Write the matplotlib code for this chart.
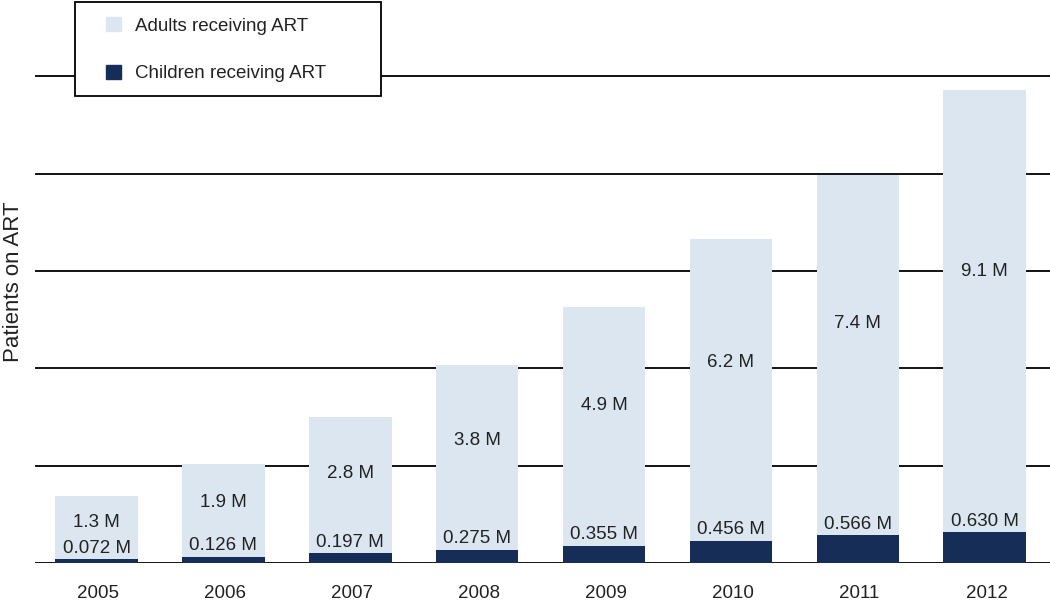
import matplotlib.pyplot as plt
import numpy as np
from matplotlib.patches import Patch, Rectangle

plt.rcParams['font.family'] = ['Liberation Sans', 'DejaVu Sans']

# Patients on ART, millions
years = ['2005', '2006', '2007', '2008', '2009', '2010', '2011', '2012']
children = [0.072, 0.126, 0.197, 0.275, 0.355, 0.456, 0.566, 0.630]
adults = [1.3, 1.9, 2.8, 3.8, 4.9, 6.2, 7.4, 9.1]
child_labels = ['0.072 M', '0.126 M', '0.197 M', '0.275 M', '0.355 M', '0.456 M', '0.566 M', '0.630 M']
adult_labels = ['1.3 M', '1.9 M', '2.8 M', '3.8 M', '4.9 M', '6.2 M', '7.4 M', '9.1 M']

LIGHT = '#dbe6f1'
DARK = '#162d57'

x = np.arange(len(years))
children = np.array(children)
adults = np.array(adults)

fig = plt.figure(figsize=(10.5, 6.01), dpi=100)
ax = fig.add_axes([35 / 1050, 38 / 601, 1015 / 1050, 563 / 601])

ax.bar(x - 0.015, children, width=0.65, color=DARK, zorder=3)
ax.bar(x - 0.015, adults, width=0.65, bottom=children, color=LIGHT, zorder=3)

for i in range(len(x)):
    ax.text(x[i] - 0.015, children[i] + 0.05, child_labels[i], ha='center', va='bottom',
            fontsize=13.5, color='#222222', zorder=4)
    ax.text(x[i] - 0.015, children[i] + adults[i] * 0.59, adult_labels[i], ha='center', va='center',
            fontsize=13.5, color='#222222', zorder=4)

ax.set_xlim(-0.5, 7.5)
ax.set_ylim(0, 11.57)
ax.set_yticks(np.arange(0, 11, 2))
ax.yaxis.grid(True, color='black', linewidth=1.3, zorder=0)
ax.set_yticklabels([])
ax.tick_params(axis='y', length=0)
ax.tick_params(axis='x', length=0, labelsize=13.5, pad=16, labelcolor='#222222')
ax.set_xticks(x)
ax.set_xticklabels(years)
for s in ax.spines.values():
    s.set_visible(False)

ax.set_ylabel('Patients on ART', fontsize=16, color='#222222')
ax.yaxis.set_label_coords(-0.011, 0.5)

# legend box drawn separately so the entries can sit off-centre like the original
box = Rectangle((75 / 1050, 1 - 96 / 601), 306 / 1050, 94 / 601, transform=fig.transFigure,
                facecolor='white', edgecolor='black', linewidth=1.3, zorder=5)
fig.patches.append(box)

handles = [Patch(color=LIGHT, label='Adults receiving ART'),
           Patch(color=DARK, label='Children receiving ART')]
leg = fig.legend(handles=handles, loc='upper left',
                 bbox_to_anchor=(106 / 1050, 1 - 17 / 601),
                 fontsize=13.5, frameon=False,
                 handlelength=0.8, handleheight=0.8, labelspacing=1.6, borderpad=0,
                 handletextpad=0.75, borderaxespad=0)
leg.set_zorder(6)
for t in leg.get_texts():
    t.set_color('#222222')

fig.savefig('out.png', dpi=100)
